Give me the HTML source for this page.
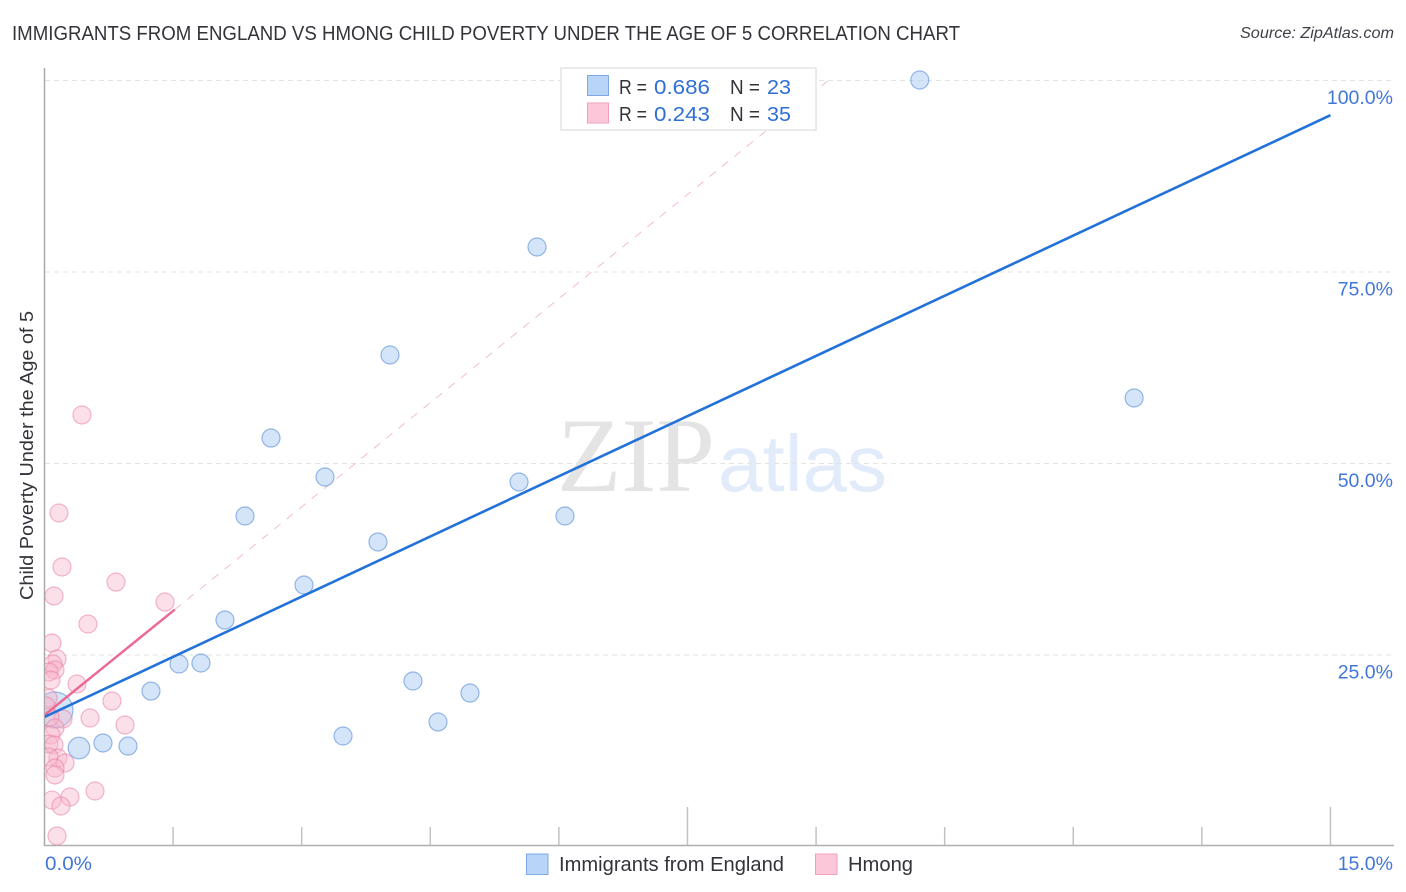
<!DOCTYPE html>
<html lang="en">
<head>
<meta charset="utf-8">
<title>Immigrants from England vs Hmong Child Poverty Correlation Chart</title>
<style>
html,body{margin:0;padding:0;background:#fff;width:1406px;height:892px;overflow:hidden}
svg{display:block;font-family:"Liberation Sans",sans-serif}
.val{fill:#2f6fd6}
.ink{fill:#33333a}
</style>
</head>
<body>
<svg id="chart" width="1406" height="892" viewBox="0 0 1406 892" xmlns="http://www.w3.org/2000/svg">
  <defs>
    <clipPath id="plot-clip"><rect x="45" y="68" width="1349" height="777"></rect></clipPath>
  </defs>
  <text x="12" y="40" font-size="20" class="ink" textLength="948" lengthAdjust="spacingAndGlyphs">IMMIGRANTS FROM ENGLAND VS HMONG CHILD POVERTY UNDER THE AGE OF 5 CORRELATION CHART</text>
  <text x="1394" y="38" font-size="15.5" font-style="italic" fill="#3f3f47" text-anchor="end" textLength="154" lengthAdjust="spacingAndGlyphs">Source: ZipAtlas.com</text>
  <text transform="translate(33,455.5) rotate(-90)" font-size="18.5" fill="#33333a" text-anchor="middle" textLength="289" lengthAdjust="spacingAndGlyphs">Child Poverty Under the Age of 5</text>

  <g>
    <text x="557" y="491" font-family="'Liberation Serif',serif" font-size="106" fill="#e4e4e4" textLength="158" lengthAdjust="spacingAndGlyphs">ZIP</text>
    <text x="718" y="491" font-size="80" fill="#e2ebf9" textLength="169" lengthAdjust="spacingAndGlyphs">atlas</text>
  </g>

  <g id="grid"></g>
  <g id="axes"></g>
  <g id="marks" clip-path="url(#plot-clip)"></g>
  <g id="labels"></g>

  <g>
    <rect x="561" y="68" width="255" height="62" fill="#fff" stroke="#e4e4e4" stroke-width="1.5"></rect>
    <rect x="587.5" y="75.5" width="21" height="20" fill="#b8d4f7" stroke="#7fa9e2" stroke-width="1"></rect>
    <rect x="587.5" y="103" width="21" height="20" fill="#fcc8d9" stroke="#f0a2bb" stroke-width="1"></rect>
    <text y="94" font-size="20"><tspan class="ink" x="619" textLength="28" lengthAdjust="spacingAndGlyphs">R =</tspan><tspan class="val" x="654" textLength="56" lengthAdjust="spacingAndGlyphs">0.686</tspan><tspan class="ink" x="730" textLength="30" lengthAdjust="spacingAndGlyphs">N =</tspan><tspan class="val" x="767" textLength="24" lengthAdjust="spacingAndGlyphs">23</tspan></text>
    <text y="121" font-size="20"><tspan class="ink" x="619" textLength="28" lengthAdjust="spacingAndGlyphs">R =</tspan><tspan class="val" x="654" textLength="56" lengthAdjust="spacingAndGlyphs">0.243</tspan><tspan class="ink" x="730" textLength="30" lengthAdjust="spacingAndGlyphs">N =</tspan><tspan class="val" x="767" textLength="24" lengthAdjust="spacingAndGlyphs">35</tspan></text>
  </g>

  <g>
    <rect x="526.5" y="854" width="21.5" height="20.5" fill="#b8d4f7" stroke="#7fa9e2" stroke-width="1"></rect>
    <text x="559" y="871" font-size="20" class="ink" textLength="225" lengthAdjust="spacingAndGlyphs">Immigrants from England</text>
    <rect x="815.5" y="854" width="21.5" height="20.5" fill="#fcc8d9" stroke="#f0a2bb" stroke-width="1"></rect>
    <text x="848" y="871" font-size="20" class="ink" textLength="65" lengthAdjust="spacingAndGlyphs">Hmong</text>
  </g>
</svg>
<script>
const englandX = [10.21,5.745,4.03,12.71,2.642,3.272,5.535,2.339,6.071,3.89,3.027,2.105,1.569,1.825,1.242,4.298,4.963,4.59,3.482,0.682,0.974,0.402,0.122];
const englandY = [100,78.2,64.1,58.49,53.26,48.17,47.52,43.08,43.08,39.69,34.07,29.5,23.76,23.89,20.23,21.54,19.97,16.19,14.36,13.45,13.05,12.79,17.75];
const englandWeight = [1,1,1,1,1,1,1,1,1,1,1,1,1,1,1,1,1,1,1,1,1,1.2,2];
const hmongX = [0.437,0.169,0.204,0.834,0.111,1.406,0.507,0.087,0.146,0.099,0.122,0.052,0.076,0.379,0.041,0.787,0.216,0.531,0.064,0.939,0.122,0.076,0.052,0.111,0.157,0.052,0.239,0.122,0.122,0.589,0.297,0.087,0.192,0.146,0.017];
const hmongY = [56.27,43.47,36.42,34.46,32.64,31.85,28.98,26.5,24.41,23.76,22.98,22.72,21.67,21.15,19.32,18.93,16.58,16.71,16.84,15.8,15.4,14.49,13.32,13.19,11.49,11.62,10.84,10.18,9.27,7.18,6.4,6.0,5.22,1.31,18.28];
const englandTrendX = [0,15];
const englandTrendY = [16.84,95.4];
const hmongTrendX = [0,1.52];
const hmongTrendY = [17.1,30.87];
const hmongProjectionX = [1.52,9.15];
const hmongProjectionY = [30.87,100];
const yTicks = [25,50,75,100];
const yTickLabels = ['25.0%','50.0%','75.0%','100.0%'];
const xTicks = [1.5,3,4.5,6,7.5,9,10.5,12,13.5,15];
const xMajorTicks = [7.5,15];
const xEndLabels = ['0.0%','15.0%'];

const NS = 'http://www.w3.org/2000/svg';
function sx(v){ return 44.5 + v * 85.73; }
function sy(v){ return 846 - v * 7.66; }
function make(tag, parent){
  const el = document.createElementNS(NS, tag);
  parent.appendChild(el);
  return el;
}
function line(parent, x1, y1, x2, y2, color, width){
  const el = make('line', parent);
  el.setAttribute('x1', x1);
  el.setAttribute('y1', y1);
  el.setAttribute('x2', x2);
  el.setAttribute('y2', y2);
  el.setAttribute('stroke', color);
  el.setAttribute('stroke-width', width);
  return el;
}
const grid = document.getElementById('grid');
const axes = document.getElementById('axes');
const marks = document.getElementById('marks');
const labels = document.getElementById('labels');

/* horizontal gridlines, 100% included */
yTicks.forEach(function(t, i){
  const g = line(grid, 45, sy(t) + 0.5, 1394, sy(t) + 0.5, '#e3e3e3', 1);
  g.setAttribute('stroke-dasharray', '5 4');
  
  
  const lab = make('text', labels);
  lab.textContent = yTickLabels[i];
  lab.setAttribute('x', 1393);
  lab.setAttribute('y', sy(t) + 24);
  lab.setAttribute('text-anchor', 'end');
  lab.setAttribute('font-size', '19.5');
  lab.setAttribute('fill', '#4277d8');
  
  
});

/* axes */
const yAxis = line(axes, 44.5, 68, 44.5, 846, '#a9a9a9', 1.5);


const xAxis = line(axes, 44, 845.5, 1394, 845.5, '#b0b0b0', 1.5);


xTicks.forEach(function(t){
  const top = xMajorTicks.indexOf(t) >= 0 ? 807 : 827;
  const tick = line(axes, sx(t), top, sx(t), 845, '#c2c2c2', 1.5);
  
  
});
const xLabLeft = make('text', labels);
xLabLeft.textContent = xEndLabels[0];
xLabLeft.setAttribute('x', 45);
xLabLeft.setAttribute('y', 870);
xLabLeft.setAttribute('font-size', '19.5');
xLabLeft.setAttribute('fill', '#4277d8');
xLabLeft.setAttribute('textLength', '47');
xLabLeft.setAttribute('lengthAdjust', 'spacingAndGlyphs');


const xLabRight = make('text', labels);
xLabRight.textContent = xEndLabels[1];
xLabRight.setAttribute('x', 1393);
xLabRight.setAttribute('y', 870);
xLabRight.setAttribute('text-anchor', 'end');
xLabRight.setAttribute('font-size', '19.5');
xLabRight.setAttribute('fill', '#4277d8');



/* hmong projection */
const proj = line(marks, sx(hmongProjectionX[0]), sy(hmongProjectionY[0]), sx(hmongProjectionX[1]), sy(hmongProjectionY[1]), '#f3bccd', 1);
proj.setAttribute('stroke-dasharray', '8 8');



/* points */
englandX.forEach(function(v, i){
  const c = make('circle', marks);
  c.setAttribute('cx', sx(v));
  c.setAttribute('cy', sy(englandY[i]));
  c.setAttribute('r', 9 * englandWeight[i]);
  c.setAttribute('fill', 'rgba(160,198,243,0.45)');
  c.setAttribute('stroke', 'rgba(86,140,214,0.6)');
  c.setAttribute('stroke-width', '1.2');
  
  
});
hmongX.forEach(function(v, i){
  const c = make('circle', marks);
  c.setAttribute('cx', sx(v));
  c.setAttribute('cy', sy(hmongY[i]));
  c.setAttribute('r', 9);
  c.setAttribute('fill', 'rgba(248,180,202,0.42)');
  c.setAttribute('stroke', 'rgba(232,128,160,0.55)');
  c.setAttribute('stroke-width', '1.2');
  
  
});

/* trend lines */
const pinkTrend = line(marks, sx(hmongTrendX[0]), sy(hmongTrendY[0]), sx(hmongTrendX[1]), sy(hmongTrendY[1]), '#ea6a94', 2.5);


const blueTrend = line(marks, sx(englandTrendX[0]), sy(englandTrendY[0]), sx(englandTrendX[1]), sy(englandTrendY[1]), '#2272d9', 2.6);


</script>
</body>
</html>
